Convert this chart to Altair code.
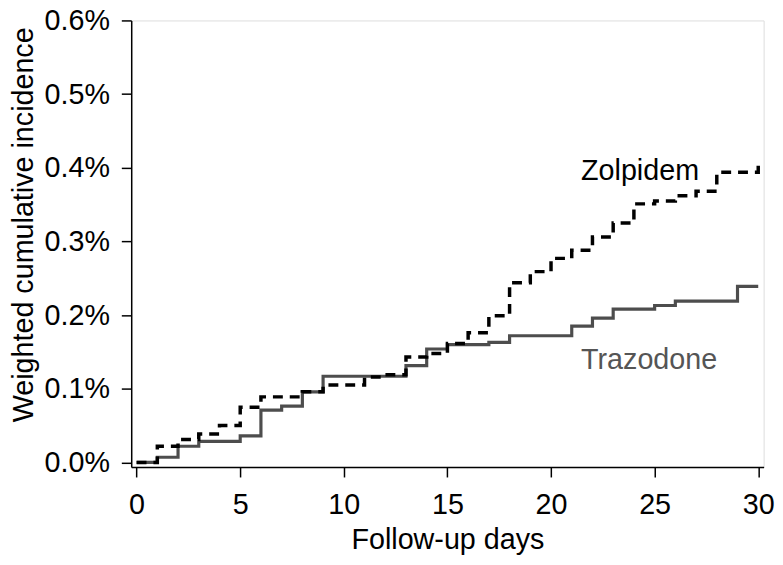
import altair as alt
import pandas as pd

# Zolpidem (dashed) step curve: follow-up day and weighted cumulative incidence (%)
zol_days = [0, 1, 2, 3, 4, 5, 6, 8, 9, 11, 12, 13, 14, 15, 16, 17, 18, 19, 20,
            21, 22, 23, 24, 25, 26, 27, 28, 30]
zol_vals = [0.0, 0.022, 0.031, 0.0385, 0.050, 0.075, 0.089, 0.096, 0.105, 0.116,
            0.119, 0.143, 0.148, 0.1615, 0.176, 0.199, 0.244, 0.259, 0.277,
            0.288, 0.306, 0.325, 0.351, 0.355, 0.362, 0.368, 0.394, 0.407]

# Trazodone (solid) step curve
tra_days = [0, 1, 2, 3, 5, 6, 7, 8, 9, 13, 14, 15, 17, 18, 21, 22, 23, 25, 26, 29, 30]
tra_vals = [0.0, 0.007, 0.022, 0.0286, 0.036, 0.071, 0.0765, 0.0957, 0.117,
            0.1315, 0.154, 0.160, 0.163, 0.172, 0.185, 0.196, 0.208, 0.213,
            0.219, 0.239, 0.239]

# In-plot labels
label_text = ["Zolpidem", "Trazodone"]
label_days = [21.45, 21.45]
label_vals = [0.3837, 0.1274]
label_colors = ["#000000", "#555555"]

x_ticks = [0, 5, 10, 15, 20, 25, 30]
y_ticks = [0.0, 0.1, 0.2, 0.3, 0.4, 0.5, 0.6]

FONT = "Liberation Sans"
FS = 29

zol = pd.DataFrame({"day": zol_days, "inc": zol_vals})
tra = pd.DataFrame({"day": tra_days, "inc": tra_vals})
lab = pd.DataFrame({"day": label_days, "inc": label_vals, "text": label_text,
                    "color": label_colors})

x_scale = alt.Scale(domain=[-0.26, 30.26], nice=False, zero=False)
y_scale = alt.Scale(domain=[-0.0063, 0.6], nice=False, zero=False)

x_axis = alt.Axis(values=x_ticks, title="Follow-up days", grid=False,
                  domainColor="black", domainWidth=1.5, tickColor="black",
                  tickWidth=1.5, tickSize=10, labelFont=FONT, labelFontSize=FS,
                  labelColor="black", labelPadding=14, titleFont=FONT,
                  titleFontSize=FS, titleFontWeight="normal", titleColor="black",
                  titleBaseline="alphabetic", titleY=82, labelFlush=False)
y_axis = alt.Axis(values=y_ticks, title="Weighted cumulative incidence",
                  grid=False, labelExpr="format(datum.value, '.1f') + '%'",
                  domainColor="black", domainWidth=1.5, tickColor="black",
                  tickWidth=1.5, tickSize=10, labelFont=FONT, labelFontSize=FS,
                  labelColor="black", labelPadding=12, titleFont=FONT,
                  titleFontSize=FS, titleFontWeight="normal", titleColor="black",
                  titleBaseline="alphabetic", titleAngle=270, titleX=-100,
                  titleY=206, titleAlign="center", labelFlush=False)

zol_line = alt.Chart(zol).mark_line(
    interpolate="step-after", color="black", strokeWidth=3.5,
    strokeDash=[10, 7]
).encode(
    x=alt.X("day:Q", scale=x_scale, axis=x_axis),
    y=alt.Y("inc:Q", scale=y_scale, axis=y_axis),
)

tra_line = alt.Chart(tra).mark_line(
    interpolate="step-after", color="#4d4d4d", strokeWidth=3.2
).encode(
    x=alt.X("day:Q", scale=x_scale),
    y=alt.Y("inc:Q", scale=y_scale),
)

labels = alt.Chart(lab).mark_text(
    align="left", baseline="alphabetic", font=FONT, fontSize=FS
).encode(
    x=alt.X("day:Q", scale=x_scale),
    y=alt.Y("inc:Q", scale=y_scale),
    text="text:N",
    color=alt.Color("color:N", scale=None),
)

chart = alt.layer(tra_line, zol_line, labels).properties(
    width=639, height=451.3,
    autosize=alt.AutoSizeParams(type="none"),
    padding={"left": 124.5, "top": 9.7, "right": 11.5, "bottom": 88},
).configure_view(stroke=None).configure(background="white")

chart.save("out.html", embed_options={"renderer": "svg", "actions": False})
